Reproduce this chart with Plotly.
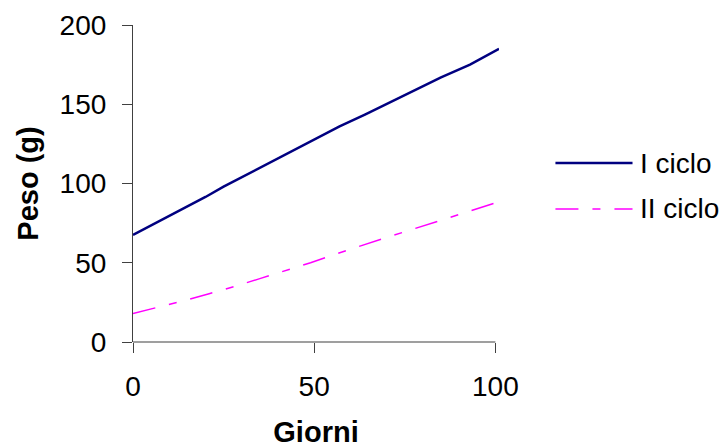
import plotly.graph_objects as go

# ---- data ----
series_names = ["I ciclo", "II ciclo"]
days_1 = [0, 8, 14, 20, 25, 30, 36, 43, 50, 57, 64, 71, 78, 85, 93, 101]
peso_1 = [67.5, 77, 84, 91.5, 98, 104, 111, 119.5, 128, 136, 143.5, 151.5, 159.5, 167, 175, 185]
days_2 = [0, 7, 14, 21, 28, 35, 42, 49, 56, 63, 70, 77, 84, 91, 101]
peso_2 = [18, 22, 26, 30.5, 35, 40, 45, 50, 55.5, 61, 66, 71, 76, 81, 88.5]
x_ticks = [0, 50, 100]
y_ticks = [0, 50, 100, 150, 200]
x_title = "Giorni"
y_title = "Peso (g)"

# ---- styles ----
FONT = "Liberation Sans, Arial, sans-serif"
AX = "#404040"
C1 = "#000080"
C2 = "#FF00FF"
DASH2 = "23px,14px,8px,14px"
TICK_SIZE = 28
TITLE_SIZE = 29

W, H = 722, 448
L, T, B = 133, 25, 106
X_MAX = 101
px_per_unit = 362 / 100.0
R = W - (L + px_per_unit * X_MAX)
plot_w = W - L - R
plot_h = H - T - B

def px_to_paper_x(px):
    return (px - L) / plot_w

def px_to_paper_y(py):
    return (H - B - py) / plot_h

fig = go.Figure()
fig.add_trace(go.Scatter(x=days_1, y=peso_1, mode="lines", name=series_names[0],
                         line=dict(color=C1, width=2.5), showlegend=False))
fig.add_trace(go.Scatter(x=days_2, y=peso_2, mode="lines", name=series_names[1],
                         line=dict(color=C2, width=1.5, dash=DASH2), showlegend=False))

shapes = []
# x axis line from 0 to last tick
shapes.append(dict(type="line", xref="x", yref="paper", x0=0, x1=x_ticks[-1], y0=0, y1=0,
                   line=dict(color=AX, width=1.2), layer="above"))
# manual legend
legend_y = [163, 209]
legend_colors = [C1, C2]
legend_dash = ["solid", DASH2]
legend_width = [2.5, 1.5]
annotations = []
for i, name in enumerate(series_names):
    yp = px_to_paper_y(legend_y[i])
    shapes.append(dict(type="line", xref="paper", yref="paper",
                       x0=px_to_paper_x(555), x1=px_to_paper_x(632), y0=yp, y1=yp,
                       line=dict(color=legend_colors[i], width=legend_width[i], dash=legend_dash[i])))
    annotations.append(dict(xref="paper", yref="paper", x=px_to_paper_x(637), y=yp,
                            xanchor="left", yanchor="middle", text=name, showarrow=False,
                            font=dict(family=FONT, size=TICK_SIZE, color="black")))

fig.update_layout(
    width=W, height=H,
    margin=dict(l=L, r=R, t=T, b=B, pad=0, autoexpand=False),
    paper_bgcolor="white", plot_bgcolor="white",
    font=dict(family=FONT, size=TICK_SIZE, color="black"),
    shapes=shapes, annotations=annotations,
    showlegend=False,
    xaxis=dict(range=[0, X_MAX], tickvals=x_ticks, ticktext=[str(v) for v in x_ticks],
               showgrid=False, zeroline=False, showline=False, automargin=False,
               ticks="outside", ticklen=10, tickcolor=AX, tickwidth=1.2,
               ticklabelstandoff=9,
               title=dict(text="<b>" + x_title + "</b>", font=dict(family=FONT, size=TITLE_SIZE), standoff=28)),
    yaxis=dict(range=[0, 200], tickvals=y_ticks, ticktext=[str(v) for v in y_ticks],
               showgrid=False, zeroline=False, showline=True, linecolor=AX, linewidth=1.2,
               automargin=False,
               ticks="outside", ticklen=10, tickcolor=AX, tickwidth=1.2,
               ticklabelstandoff=10,
               title=dict(text="<b>" + y_title + "</b>", font=dict(family=FONT, size=TITLE_SIZE), standoff=12)),
)

fig.write_html("out.html")
